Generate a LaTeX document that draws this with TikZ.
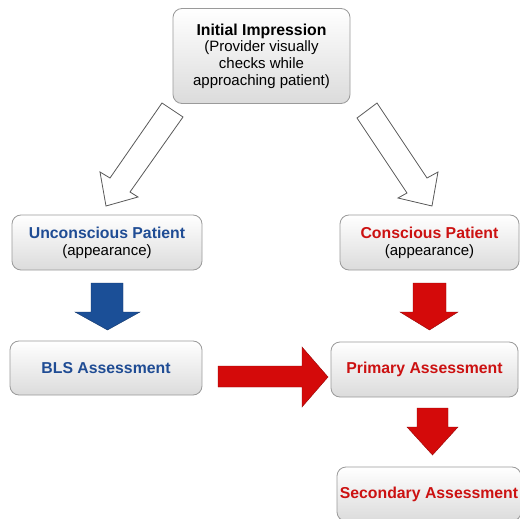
\documentclass[tikz,border=0pt]{standalone}
\usepackage{fontspec}
\setmainfont{Liberation Sans}
\definecolor{bluetxt}{HTML}{1F4C94}
\definecolor{bluearr}{HTML}{1B4F97}
\definecolor{redtxt}{HTML}{CC1111}
\definecolor{redarr}{HTML}{D40A0A}
\definecolor{boxline}{HTML}{9A9A9A}
\newcommand{\bt}[1]{{\fontsize{15.8}{16.7}\selectfont\bfseries #1}}
\begin{document}
\begin{tikzpicture}[x=1pt,y=-1pt,
  box/.style={draw=boxline,line width=0.8pt,rounded corners=9pt,top color=white,bottom color=black!14,
    align=center,inner sep=0pt,font=\fontsize{15}{16.7}\selectfont},
  hollow/.style={draw=black!65,line width=0.8pt,fill=white,line join=miter},
  solidblue/.style={fill=bluearr,draw=bluearr!70!black,line width=0.4pt},
  solidred/.style={fill=redarr,draw=redarr!70!black,line width=0.4pt}]
\useasboundingbox (0,0) rectangle (520,519);
\fill[white] (0,0) rectangle (520,519);
% boxes
\node[box,minimum width=177pt,minimum height=95pt] (init) at (261.5,56)
  {\bt{Initial Impression}\\(Provider visually\\checks while\\approaching patient)};
\node[box,minimum width=190pt,minimum height=55pt] (unc) at (107,242.5)
  {\textcolor{bluetxt}{\bt{Unconscious Patient}}\\(appearance)};
\node[box,minimum width=179pt,minimum height=55pt] (con) at (429.5,242.5)
  {\textcolor{redtxt}{\bt{Conscious Patient}}\\(appearance)};
\node[box,minimum width=192pt,minimum height=54pt] (bls) at (106,368)
  {\textcolor{bluetxt}{\bt{BLS Assessment}}};
\node[box,minimum width=187pt,minimum height=55pt] (prim) at (424.5,369.5)
  {\textcolor{redtxt}{\bt{Primary Assessment}}};
\node[box,minimum width=184pt,minimum height=54pt] (sec) at (429,494)
  {\textcolor{redtxt}{\bt{Secondary Assessment}}};
% hollow diagonal arrows
\draw[hollow] (162,103) -- (183,117) -- (130,192) -- (138,197) -- (106,206) -- (100,172) -- (110,178) -- cycle;
\draw[hollow] (377,103) -- (357,118) -- (407,193) -- (398,198) -- (432,206) -- (438,172) -- (427,178) -- cycle;
% blue down arrow
\draw[solidblue] (91,283) -- (123,283) -- (123,312) -- (140,312) -- (107.5,330) -- (75,312) -- (91,312) -- cycle;
% red down arrow (upper)
\draw[solidred] (413,283) -- (446,283) -- (446,312) -- (458,312) -- (429.5,330) -- (400,312) -- (413,312) -- cycle;
% right arrow
\draw[solidred] (218,366) -- (302,366) -- (302,347) -- (328,377) -- (302,407) -- (302,387) -- (218,387) -- cycle;
% red down arrow (lower)
\draw[solidred] (417,408) -- (448,408) -- (448,427) -- (458,427) -- (432.5,455) -- (407,427) -- (417,427) -- cycle;
\end{tikzpicture}
\end{document}
